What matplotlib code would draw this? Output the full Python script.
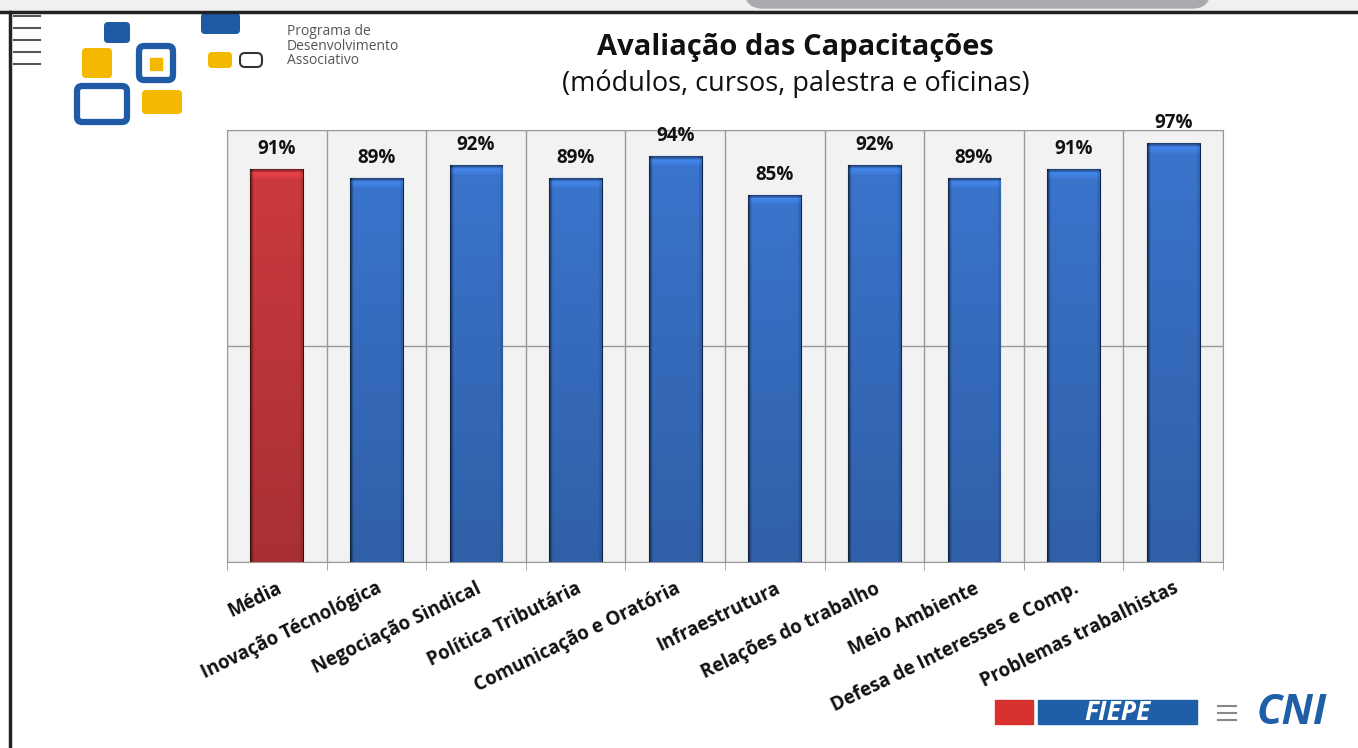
import numpy as np
import matplotlib.pyplot as plt
from matplotlib.patches import Rectangle, FancyBboxPatch
from matplotlib.colors import to_rgb

# data
categorias = ['Média', 'Inovação Técnológica', 'Negociação Sindical', 'Política Tributária',
              'Comunicação e Oratória', 'Infraestrutura', 'Relações do trabalho', 'Meio Ambiente',
              'Defesa de Interesses e Comp.', 'Problemas trabalhistas']
valores = [91, 89, 92, 89, 94, 85, 92, 89, 91, 97]
rotulos = ['91%', '89%', '92%', '89%', '94%', '85%', '92%', '89%', '91%', '97%']

plt.rcParams['font.family'] = ['Open Sans', 'DejaVu Sans']

W, H = 1358, 748
fig = plt.figure(figsize=(W/100, H/100), dpi=100)
fig.patch.set_facecolor('white')

# decoration layer in pixel coordinates
deco = fig.add_axes([0, 0, 1, 1])
deco.set_xlim(0, W)
deco.set_ylim(H, 0)
deco.axis('off')
deco.add_patch(Rectangle((0, 0), W, 12, color='#f0f0f0', zorder=0))
deco.add_patch(FancyBboxPatch((745, -30), 465, 38, boxstyle='round,pad=0,rounding_size=18',
                              color='#a9aaad', zorder=1))
deco.plot([0, W], [12, 12], color='#222222', lw=2.5, zorder=2)
deco.plot([10, 10], [12, H], color='#222222', lw=2.5, zorder=2)
for yy in [16, 28, 40, 52, 64]:
    deco.plot([14, 40], [yy, yy], color='#555555', lw=1.5)

# logo squares (approximation)
amarelo = '#f5b800'
azul = '#1f5aa6'
for (x, y, w, h) in [(82, 48, 30, 30), (208, 52, 24, 16), (142, 90, 40, 24)]:
    deco.add_patch(FancyBboxPatch((x, y), w, h, boxstyle='round,pad=0,rounding_size=4',
                                  color=amarelo, lw=0))
for (x, y, w, h) in [(104, 22, 26, 21), (201, 13, 39, 21)]:
    deco.add_patch(FancyBboxPatch((x, y), w, h, boxstyle='round,pad=0,rounding_size=4',
                                  color=azul, lw=0))
for (x, y, w, h, lw) in [(139, 46, 34, 34, 4.5), (77, 86, 50, 36, 4.5), (240, 53, 22, 14, 1.5)]:
    deco.add_patch(FancyBboxPatch((x, y), w, h, boxstyle='round,pad=0,rounding_size=5',
                                  fill=False, ec=azul if lw > 2 else '#333333', lw=lw))
deco.add_patch(Rectangle((150, 58), 12, 12, color=amarelo))
deco.text(287, 46, 'Programa de\nDesenvolvimento\nAssociativo', fontsize=10, color='#555555',
          va='center', ha='left', linespacing=0.95)

# bottom right logos
deco.add_patch(Rectangle((995, 700), 38, 24, color='#d8322f'))
deco.add_patch(Rectangle((1038, 700), 159, 24, color='#1e5fa8'))
deco.text(1117, 712, 'FIEPE', color='white', fontsize=19, fontweight='bold', style='italic',
          ha='center', va='center')
deco.text(1292, 713, 'CNI', color='#1e5fa8', fontsize=30, fontweight='bold', style='italic',
          ha='center', va='center')
for yy in [706, 713, 720]:
    deco.plot([1218, 1236], [yy, yy], color='#888888', lw=1.5)

# titles
fig.text(795/W, 1 - 48/H, 'Avaliação das Capacitações', ha='center', va='center',
         fontsize=21, fontweight='bold', color='#111111')
fig.text(796/W, 1 - 84/H, '(módulos, cursos, palestra e oficinas)', ha='center', va='center',
         fontsize=19.5, color='#111111')

# main chart
ax = fig.add_axes([227/W, 1 - 562/H, 996/W, 432/H])
ax.set_facecolor('#f2f2f2')
x = np.arange(len(categorias))
cores = ['#cc3a3e'] + ['#3a74cc'] * (len(categorias) - 1)
escuras = ['#3a0c0c'] + ['#0f2350'] * (len(categorias) - 1)
barras = ax.bar(x, valores, width=0.53, color=cores, edgecolor=escuras, linewidth=0.8, zorder=3)

# shading inside each bar: dark left edge, slightly darker towards the bottom
nx, ny = 60, 120
hx = np.ones(nx)
hx[:4] = np.linspace(0.35, 0.9, 4)
hx[-3:] = 0.88
vy = np.linspace(1.0, 0.82, ny)
vy[:3] = [0.6, 1.15, 1.1]
for b, c in zip(barras, cores):
    rgb = np.array(to_rgb(c))
    img = np.clip(vy[:, None, None] * hx[None, :, None] * rgb[None, None, :], 0, 1)
    im = ax.imshow(img, aspect='auto', zorder=3.5, interpolation='bilinear',
                   extent=[b.get_x(), b.get_x() + b.get_width(), 0, b.get_height()])
    im.set_clip_path(b)

for xi, v, r in zip(x, valores, rotulos):
    ax.text(xi, v + 2.2, r, ha='center', va='bottom', fontsize=13.5, fontweight='bold',
            color='#111111')

ax.set_xlim(-0.5, len(categorias) - 0.5)
ax.set_ylim(0, 100)
ax.set_yticks([0, 50, 100])
ax.set_yticklabels([])
ax.tick_params(axis='y', length=0)
ax.yaxis.grid(True, color='#9a9a9a', lw=1.0, zorder=1)
ax.set_xticks(np.arange(-0.5, len(categorias), 1.0), minor=True)
ax.xaxis.grid(True, which='minor', color='#9a9a9a', lw=1.0, zorder=1)
ax.set_xticks(x)
ax.set_xticklabels(categorias, rotation=26, ha='right', rotation_mode='anchor',
                   fontsize=13.5, fontweight='bold', color='#111111')
ax.tick_params(axis='x', which='major', length=0, pad=12)
ax.tick_params(axis='x', which='minor', length=6, color='#9a9a9a')
for s in ax.spines.values():
    s.set_color('#9a9a9a')

plt.savefig('out.png', dpi=100)
